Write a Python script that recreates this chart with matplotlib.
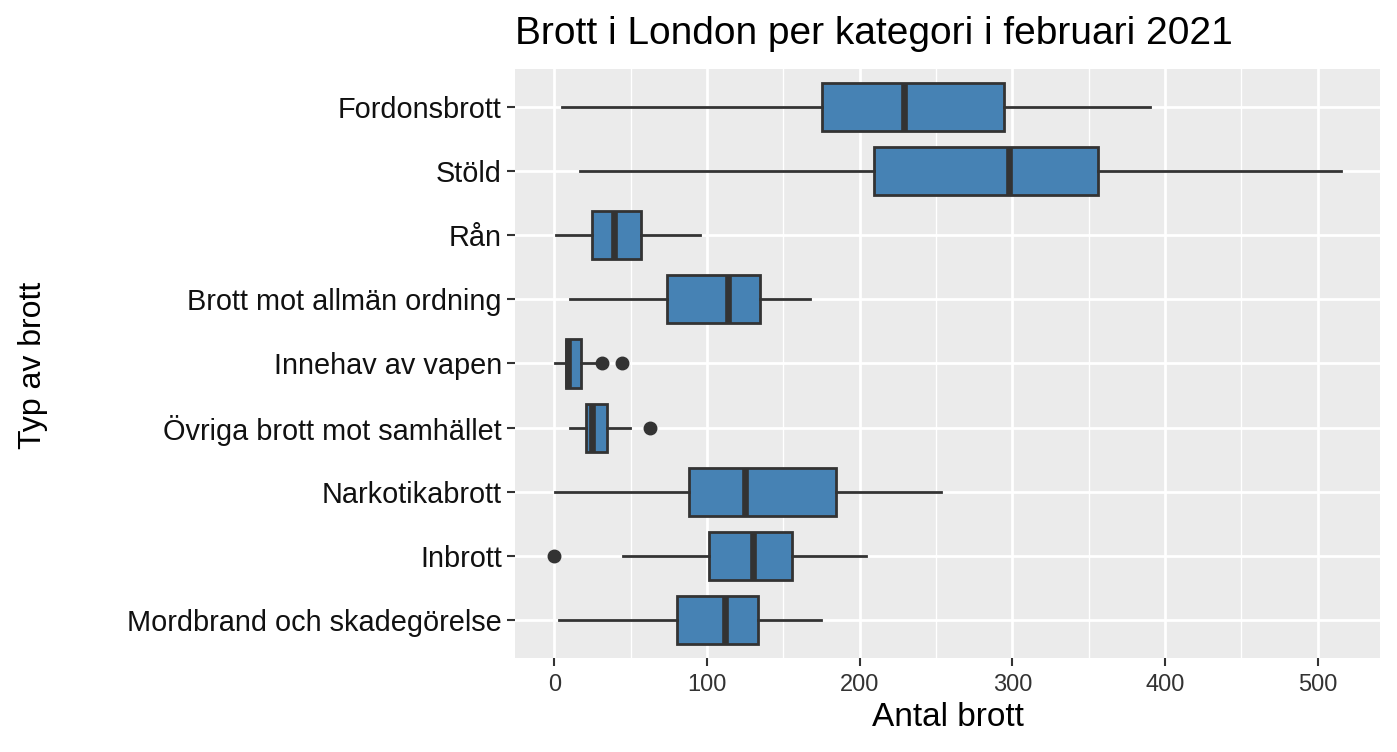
import matplotlib
matplotlib.use("Agg")
import matplotlib.pyplot as plt
from matplotlib.ticker import MultipleLocator

plt.rcParams['font.family'] = ['Liberation Sans', 'DejaVu Sans']

# categories listed top to bottom, as in the chart
categories = ["Fordonsbrott", "Stöld", "Rån", "Brott mot allmän ordning",
              "Innehav av vapen", "Övriga brott mot samhället",
              "Narkotikabrott", "Inbrott", "Mordbrand och skadegörelse"]
whisker_lo = [5, 17, 1, 10, 0.5, 10, 0.5, 45, 3]
q1 = [175.5, 209.5, 24.5, 73.5, 7.5, 20.5, 88.5, 101.5, 80.5]
medians = [229, 298, 39, 114, 9, 25, 125, 130, 112]
q3 = [294.5, 356, 57, 134.5, 17.5, 34.5, 184.5, 155.5, 133.5]
whisker_hi = [390, 515.5, 95.5, 167.5, 27, 49.5, 253, 204, 174.5]
outliers = [[], [], [], [], [31.5, 44], [62.5], [], [0], []]

stats = []
for i, name in enumerate(categories):
    stats.append(dict(label=name, whislo=whisker_lo[i], q1=q1[i], med=medians[i],
                      q3=q3[i], whishi=whisker_hi[i], fliers=outliers[i]))

positions = list(range(len(categories), 0, -1))

fig = plt.figure(figsize=(13.97, 7.52), dpi=100)
ax = fig.add_axes([515 / 1397, 1 - 658 / 752, 865 / 1397, 589 / 752])
ax.set_facecolor("#EBEBEB")

edge = "#333333"
ax.bxp(stats, positions=positions, vert=False, widths=0.75, patch_artist=True,
       showcaps=False,
       boxprops=dict(facecolor="#4682B4", edgecolor=edge, linewidth=2.0),
       medianprops=dict(color=edge, linewidth=4.8, solid_capstyle="butt"),
       whiskerprops=dict(color=edge, linewidth=2.0),
       flierprops=dict(marker="o", markerfacecolor=edge, markeredgecolor=edge,
                       markersize=9), zorder=3)

ax.set_xlim(-25.75, 540.75)
ax.set_ylim(0.4, len(categories) + 0.6)
ax.xaxis.set_major_locator(MultipleLocator(100))
ax.xaxis.set_minor_locator(MultipleLocator(50))
ax.grid(which="major", color="white", linewidth=2.0, zorder=0)
ax.grid(which="minor", axis="x", color="white", linewidth=1.0, zorder=0)
ax.set_axisbelow(True)
for s in ax.spines.values():
    s.set_visible(False)

ax.set_yticks(positions)
ax.set_yticklabels(categories)
ax.tick_params(axis="both", which="major", length=5.5, width=1.5, color=edge)
ax.tick_params(axis="both", which="minor", length=0)
ax.tick_params(axis="y", labelsize=20.8, labelcolor="#111111", pad=4)
ax.tick_params(axis="x", labelsize=17, labelcolor="#333333", pad=6)

ax.set_xlabel("Antal brott", fontsize=24, labelpad=4)
fig.text(33 / 1397, 1 - 365 / 752, "Typ av brott", fontsize=23,
         rotation=90, ha="center", va="center")
ax.set_title("Brott i London per kategori i februari 2021", fontsize=28,
             loc="left", pad=18)

fig.savefig("out.png", dpi=100)
